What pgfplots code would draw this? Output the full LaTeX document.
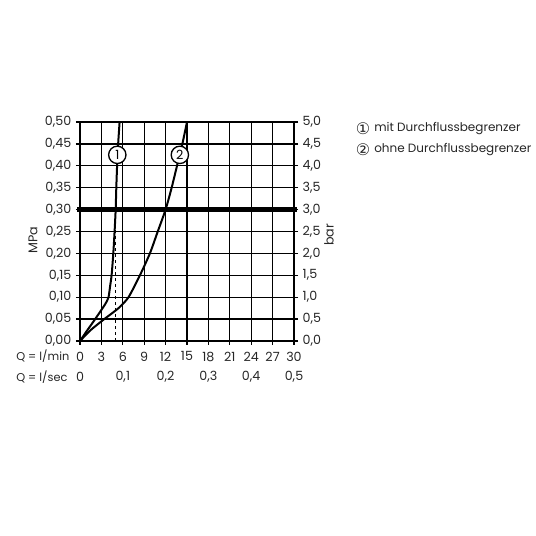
\documentclass[border=0pt]{standalone}
\usepackage{pgfplots}
\pgfplotsset{compat=1.18}
\usepackage{fontspec}
\setmainfont{Poppins}
\newfontfamily\sym{DejaVu Sans}

\begin{document}
\begin{tikzpicture}
\path[use as bounding box] (0,0) rectangle (402pt,402pt);

% main axis: l/min vs MPa
\begin{axis}[
    scale only axis,
    width=160.5pt, height=164.25pt,
    at={(60pt,146.25pt)}, anchor=south west,
    xmin=0, xmax=30, ymin=0, ymax=0.5,
    clip=false,
    xtick={0,3,6,9,12,15,18,21,24,27,30},
    xticklabels={0,3,6,9,12,15,18,21,24,27,30},
    ytick={0,0.05,0.1,0.15,0.2,0.25,0.3,0.35,0.4,0.45,0.5},
    yticklabels={{0,00},{0,05},{0,10},{0,15},{0,20},{0,25},{0,30},{0,35},{0,40},{0,45},{0,50}},
    xtick pos=bottom, ytick pos=left,
    tick align=outside, major tick length=3pt,
    tick style={black, line width=0.9pt},
    grid=major, grid style={black, line width=0.95pt},
    axis line style={black, line width=1.1pt},
    ticklabel style={font=\fontsize{9.5}{11}\selectfont, text=black!85},
    xticklabel style={yshift=-1.5pt},
]
% pressure line at 0,3 MPa
\addplot[black, line width=3.6pt] coordinates {(-0.45,0.3) (30.45,0.3)};
% dashed drops
\addplot[black, line width=0.6pt, dash pattern=on 2.5pt off 2pt] coordinates {(5.0,0) (5.0,0.3)};
\addplot[black, line width=0.6pt, dash pattern=on 2.5pt off 2pt] coordinates {(12.0,0) (12.0,0.3)};
% (1) mit Durchflussbegrenzer
\addplot[black, line width=1.5pt, smooth, tension=0.4] coordinates {
    (0,0) (1,0.024) (2,0.047) (3,0.071) (3.6,0.086) (4.0,0.10)
    (4.22,0.125) (4.43,0.15) (4.67,0.20) (4.85,0.25) (5.0,0.30)
    (5.09,0.35) (5.2,0.40) (5.35,0.45) (5.55,0.50)
};
% (2) ohne Durchflussbegrenzer
\addplot[black, line width=1.5pt, smooth, tension=0.4] coordinates {
    (0,0) (1.5,0.025) (3.4,0.05) (5.4,0.075) (6.8,0.10) (8.4,0.15)
    (9.8,0.20) (10.9,0.25) (12.0,0.30) (12.85,0.35) (13.6,0.40)
    (14.35,0.45) (15.0,0.50)
};
\node[circle, draw, line width=1pt, fill=white, inner sep=0pt, minimum size=13pt,
      font=\fontsize{9.5}{10}\selectfont] at (axis cs:5.23,0.425) {1};
\node[circle, draw, line width=1pt, fill=white, inner sep=0pt, minimum size=13pt,
      font=\fontsize{9.5}{10}\selectfont] at (axis cs:14.0,0.425) {2};
% l/sec scale
\foreach \q/\t in {0/0, 6/{0,1}, 12/{0,2}, 18/{0,3}, 24/{0,4}, 30/{0,5}} {
    \edef\tmp{\noexpand\node[font=\noexpand\fontsize{9.5}{11}\noexpand\selectfont, text=black!85]
        at (axis cs:\q,0) [yshift=-27pt] {\t};}
    \tmp
}
\end{axis}

% right axis: bar
\begin{axis}[
    scale only axis,
    width=160.5pt, height=164.25pt,
    at={(60pt,146.25pt)}, anchor=south west,
    xmin=0, xmax=30, ymin=0, ymax=5,
    axis x line=none, axis y line*=right,
    ytick={0,0.5,1,1.5,2,2.5,3,3.5,4,4.5,5},
    yticklabels={{0,0},{0,5},{1,0},{1,5},{2,0},{2,5},{3,0},{3,5},{4,0},{4,5},{5,0}},
    tick align=outside, major tick length=3pt,
    tick style={black, line width=0.9pt},
    axis line style={black, line width=1.1pt},
    ticklabel style={font=\fontsize{9.5}{11}\selectfont, text=black!85},
]
\end{axis}

\node[rotate=90, font=\fontsize{9.5}{11}\selectfont, text=black!85] at (24.75pt,222pt) {MPa};
\node[rotate=90, font=\fontsize{9.5}{11}\selectfont, text=black!85] at (246.75pt,225.75pt) {bar};
\node[anchor=west, font=\fontsize{8.5}{10}\selectfont, text=black!85, inner sep=0pt] at (12pt,135pt) {Q = l/min};
\node[anchor=west, font=\fontsize{8.5}{10}\selectfont, text=black!85, inner sep=0pt] at (12pt,119.25pt) {Q = l/sec};

% legend
\node[font=\sym\fontsize{12}{13}\selectfont, text=black!85] at (272.25pt,305.25pt) {①};
\node[anchor=west, inner sep=0pt, font=\fontsize{9}{11}\selectfont, text=black!85] at (280.5pt,305.25pt) {mit Durchflussbegrenzer};
\node[font=\sym\fontsize{12}{13}\selectfont, text=black!85] at (272.25pt,289.5pt) {②};
\node[anchor=west, inner sep=0pt, font=\fontsize{9}{11}\selectfont, text=black!85] at (280.5pt,289.5pt) {ohne Durchflussbegrenzer};
\end{tikzpicture}
\end{document}
